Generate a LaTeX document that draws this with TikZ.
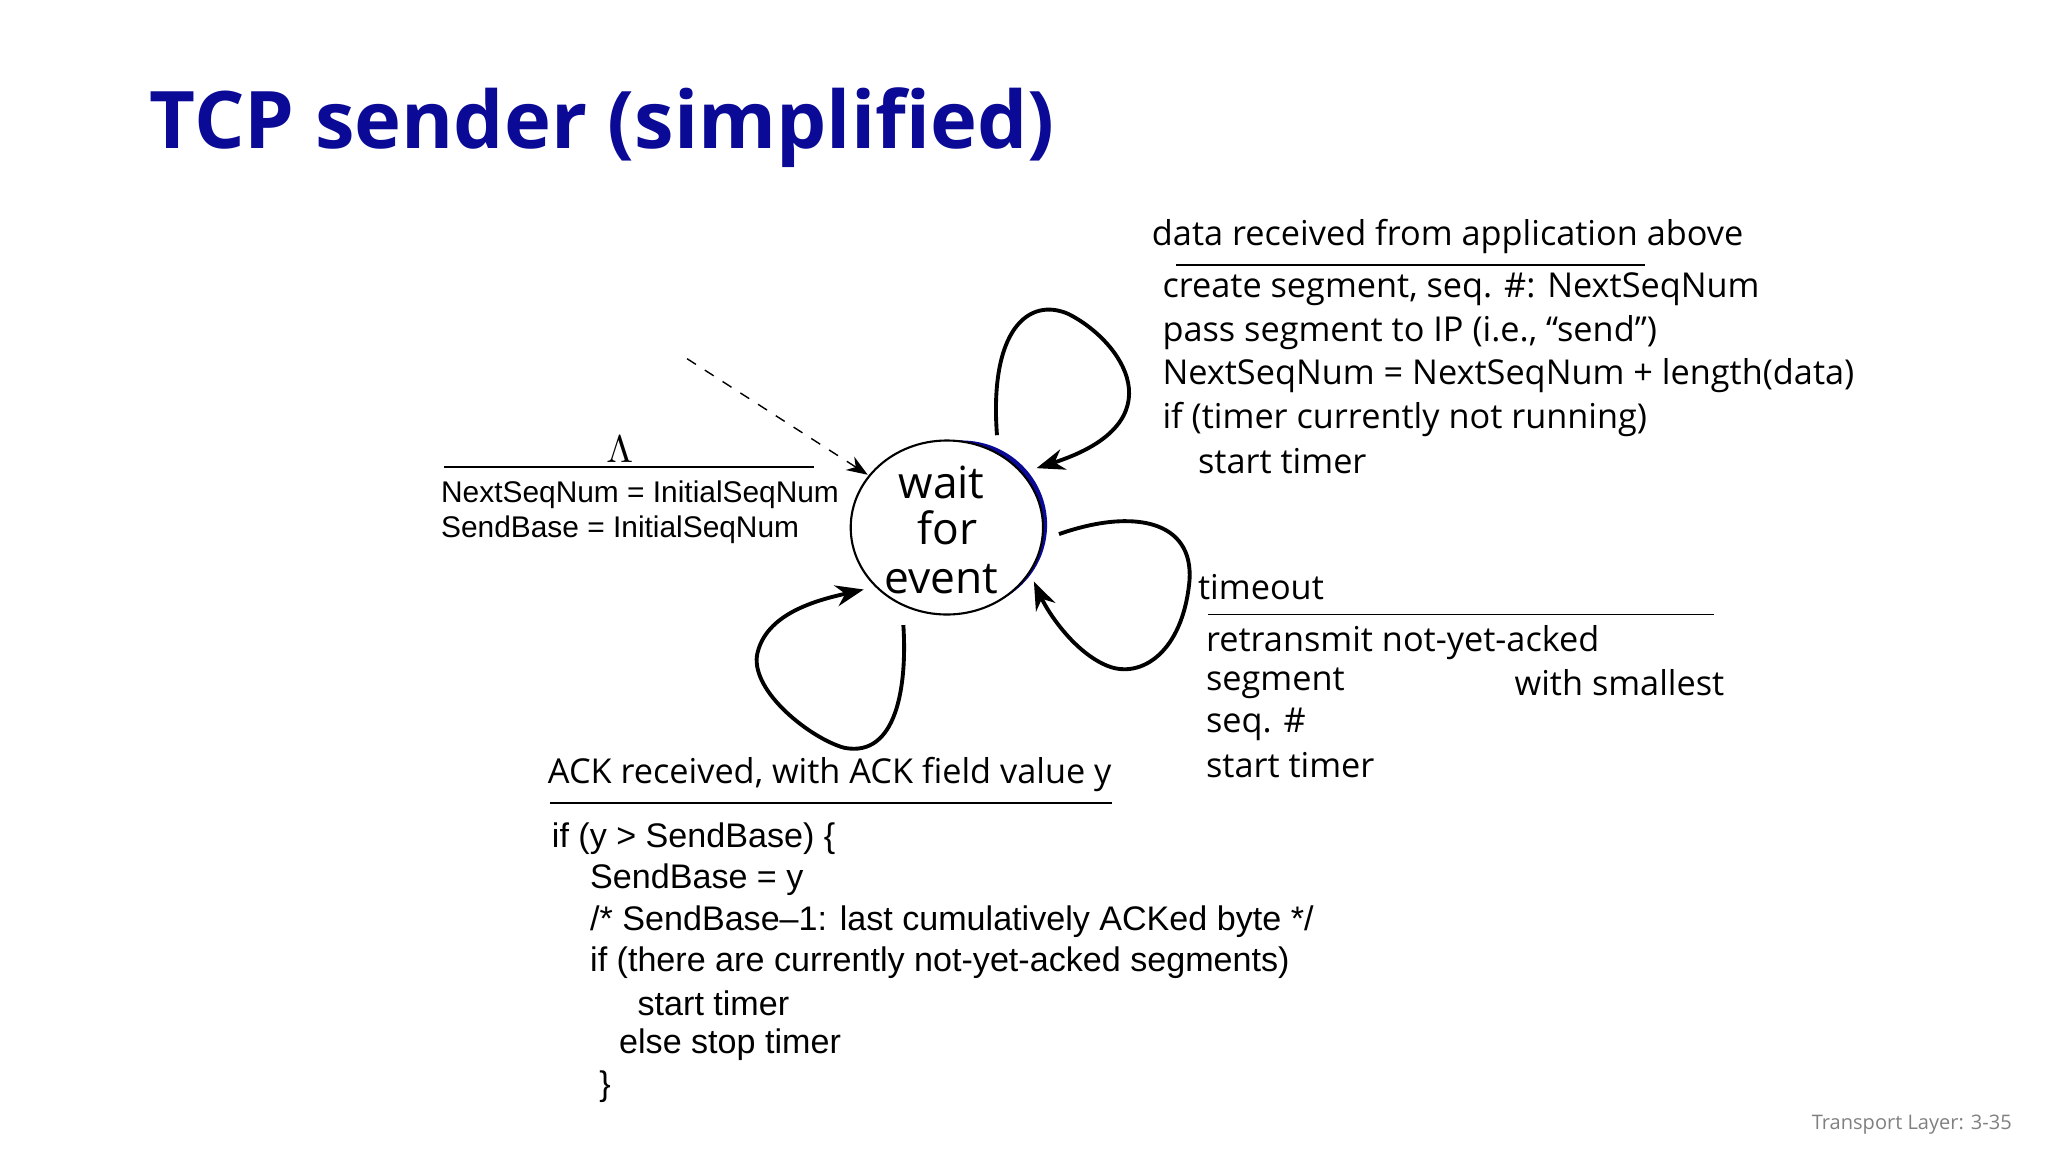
\documentclass[tikz,border=0pt]{standalone}
\usepackage{fontspec}
\setmainfont{Open Sans}
\newfontfamily\arialf{Liberation Sans}
\usetikzlibrary{arrows.meta,shapes.geometric}
\definecolor{tblue}{RGB}{10,10,150}
\begin{document}
\begin{tikzpicture}[x=0.013188cm,y=-0.013188cm,
  lbl/.style={anchor=west,inner sep=0pt,font=\fontsize{9.75}{12}\selectfont},
  ar/.style={anchor=west,inner sep=0pt,font=\arialf\fontsize{9.7}{11}\selectfont},
  ars/.style={anchor=west,inner sep=0pt,font=\arialf\fontsize{8.5}{10}\selectfont},
  loop/.style={line width=1.1pt,-{Stealth[length=8pt,width=6pt]}},
  rule/.style={line width=0.5pt}]
\useasboundingbox (0,0) rectangle (1553,873.6);
\node[anchor=west,inner sep=0pt,text=tblue,font=\fontsize{22.6}{26}\selectfont\bfseries] (title) at (113,97) {TCP sender (simplified)};
% state
\begin{scope}
\clip (695,320) -- (860,320) -- (860,480) -- (762,480) -- cycle;
\fill[tblue] (729,398) ellipse [x radius=65,y radius=64];
\end{scope}
\node[draw,ellipse,minimum width=54.7pt,minimum height=49.5pt,inner sep=0pt,fill=white,line width=0.6pt] (s) at (718,400) {};
\node[inner sep=0pt,align=center,font=\fontsize{12.6}{14}\selectfont] (st) at (714,402) {wait\\[-1pt]\ for\\event};
\coordinate (init) at (521,272);
\draw[dashed,-{Stealth[length=6pt,width=4.5pt]}] (init) -- (658,360);
% loops
\draw[loop] (756,330) .. controls (750,250) and (780,225) .. (810,238) .. controls (850,258) and (895,320) .. (786,355);
\draw[loop] (803,405) .. controls (860,385) and (905,395) .. (902,440) .. controls (897,495) and (865,515) .. (840,505) .. controls (815,495) and (795,465) .. (784,441);
\draw[loop] (685,474) .. controls (688,520) and (680,575) .. (640,567) .. controls (615,560) and (570,525) .. (574,497) .. controls (580,465) and (620,455) .. (655,447);
% top label
\node[lbl] (t0) at (873,179) {data received from application above};
\draw[rule] (892,201) -- (1247,201);
\node[lbl] (t1) at (881,219) {create segment, seq. \#: NextSeqNum};
\node[lbl] (t2) at (881,252) {pass segment to IP (i.e., “send”)};
\node[lbl] (t3) at (881,285) {NextSeqNum = NextSeqNum + length(data)};
\node[lbl] (t4) at (881,318) {if (timer currently not running)};
\node[lbl] (t5) at (908,350) {start timer};
% init label
\node[font=\fontsize{11}{12}\selectfont,inner sep=0pt] (lam) at (470,341) {$\Lambda$};
\draw[rule] (337,354) -- (617,354);
\node[ars] (i1) at (334,375) {NextSeqNum = InitialSeqNum};
\node[ars] (i2) at (334,402) {SendBase = InitialSeqNum};
% timeout label
\node[lbl] (o0) at (908,445) {timeout};
\draw[rule] (916,466) -- (1300,466);
\node[lbl] (o1) at (914,487) {retransmit not-yet-acked};
\node[lbl] (o2) at (914,518) {segment};
\node[lbl] (o2b) at (1148,518) {with smallest};
\node[lbl] (o3) at (914,549) {seq. \#};
\node[lbl] (o4) at (914,580) {start timer};
% ack label
\node[lbl] (a0) at (415,587) {ACK received, with ACK field value y};
\draw[rule] (417,609) -- (843,609);
\node[ar] (a1) at (418,636) {if (y > SendBase) \{};
\node[ar] (a2) at (447,667) {SendBase = y};
\node[ar] (a3) at (447,699) {/* SendBase–1: last cumulatively ACKed byte */};
\node[ar] (a4) at (447,730) {if (there are currently not-yet-acked segments)};
\node[ar] (a5) at (483,761) {start timer};
\node[ar] (a6) at (469,792) {else stop timer};
\node[ar] (a7) at (454,824) {\}};
\node[anchor=east,inner sep=0pt,text=gray,font=\fontsize{5.7}{7}\selectfont] (foot) at (1526,853) {Transport Layer: 3-35};
\end{tikzpicture}
\end{document}
